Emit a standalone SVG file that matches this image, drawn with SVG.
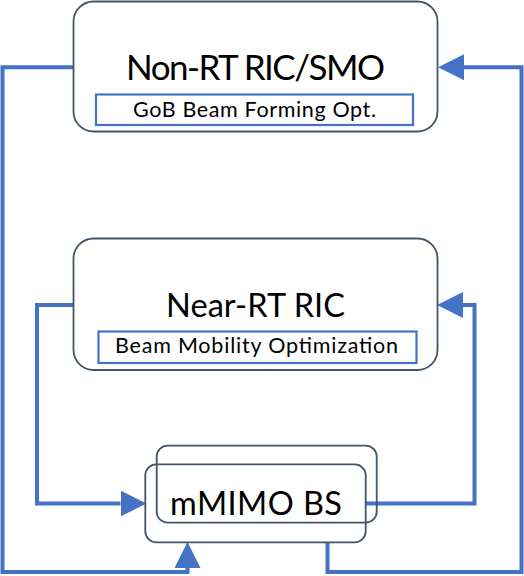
<svg xmlns="http://www.w3.org/2000/svg" width="524" height="576" viewBox="0 0 524 576">
<style>
.box{fill:none;stroke:#44546A;stroke-width:1.8}
.inner{fill:#fff;stroke:#4472C4;stroke-width:2.2}
.conn{fill:none;stroke:#4472C4;stroke-width:4}
text{font-family:Lato,"Open Sans","Liberation Sans",sans-serif;fill:#000;text-anchor:middle}
.big{font-size:35px}
.mid{font-size:32.5px}
.small{font-size:21.5px}
</style>
<defs>
<marker id="arr" markerUnits="userSpaceOnUse" markerWidth="26" markerHeight="26" viewBox="0 0 25 25" refX="0" refY="12.5" orient="auto">
<path d="M0,0 L25,12.5 L0,25 z" fill="#4472C4"/>
</marker>
</defs>
<rect width="524" height="576" fill="#fff"/>
<g id="connectors">
<path class="conn" d="M73,67.2 H2.5 V572 H187.5 V568" marker-end="url(#arr)"/>
<path class="conn" d="M327.5,542 V572 H521.5 V67.2 H464" marker-end="url(#arr)"/>
<path class="conn" d="M73,305 H37 V503.5 H120.5" marker-end="url(#arr)"/>
<path class="conn" d="M365.7,503.5 H474.5 V305 H463" marker-end="url(#arr)"/>
</g>
<g id="nonrt">
<rect class="box" x="73.5" y="1.5" width="364" height="130" rx="20" fill="#fff"/>
<text class="big" x="255.5" y="80" textLength="259">Non-RT RIC/SMO</text>
<rect class="inner" x="96" y="94.5" width="317" height="30.5"/>
<text class="small" x="254.5" y="117" textLength="243">GoB Beam Forming Opt.</text>
</g>
<g id="nearrt">
<rect class="box" x="73.5" y="238.5" width="364" height="131.5" rx="20"/>
<text class="mid" x="255.5" y="316.5" textLength="179">Near-RT RIC</text>
<rect class="inner" x="98.5" y="331.5" width="318" height="31.5"/>
<text class="small" x="256.5" y="353" textLength="283">Beam Mobility Optimization</text>
</g>
<g id="mmimo">
<rect class="box" x="156.7" y="445.7" width="220" height="77" rx="11"/>
<rect class="box" x="145.3" y="464.3" width="220.4" height="78" rx="11"/>
<text class="mid" x="256" y="515" textLength="172">mMIMO BS</text>
</g>
</svg>
